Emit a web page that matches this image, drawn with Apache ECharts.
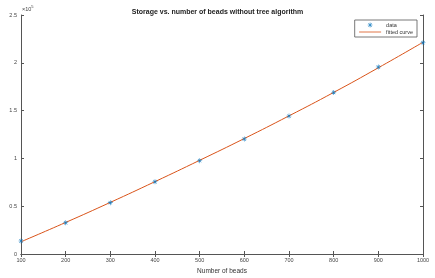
<!DOCTYPE html>
<html>
<head>
<meta charset="utf-8">
<script src="https://cdn.jsdelivr.net/npm/echarts@6/dist/echarts.min.js"></script>
<style>
  html, body { margin: 0; padding: 0; background: #fff; }
  #main { width: 435px; height: 278px; }
</style>
</head>
<body>
<div id="main"></div>
<script>
// beads count on x, storage (x10^5) on y
const beads = [100, 200, 300, 400, 500, 600, 700, 800, 900, 1000];
const storage = [0.136, 0.327, 0.537, 0.756, 0.976, 1.203, 1.443, 1.69, 1.956, 2.21];
const fitted = [0.128, 0.33, 0.54, 0.757, 0.98, 1.208, 1.445, 1.69, 1.948, 2.215];
const yTicks = [0, 0.5, 1, 1.5, 2, 2.5];

const axisColor = "#555";
const star = "path://M4.4,0H5.6V10H4.4Z M0,4.4H10V5.6H0Z M1.2,2L2,1.2L8.8,8L8,8.8Z M8,1.2L8.8,2L2,8.8L1.2,8Z";

var myChart = echarts.init(document.getElementById("main"));
myChart.setOption({
  animation: false,
  textStyle: { fontFamily: "Liberation Sans, Arial, sans-serif" },
  title: {
    text: "Storage vs. number of beads without tree algorithm",
    left: "center",
    top: 4,
    textStyle: { fontSize: 7, fontWeight: "bold", color: "#222" },
  },
  legend: {
    right: 18,
    top: 20,
    orient: "vertical",
    itemGap: 1,
    itemWidth: 22,
    itemHeight: 5,
    padding: [2, 4, 2, 4],
    borderColor: "#555",
    borderWidth: 0.8,
    backgroundColor: "#fff",
    textStyle: { fontSize: 5.5, color: "#333" },
    data: [
      { name: "data", icon: star },
      { name: "fitted curve", itemStyle: { opacity: 0 }, lineStyle: { width: 0.8 } },
    ],
  },
  grid: { left: 21, right: 12, top: 15, bottom: 24, containLabel: false, outerBoundsMode: "none" },
  xAxis: [
    {
      type: "value",
      min: 100,
      max: 1000,
      interval: 100,
      name: "Number of beads",
      nameLocation: "middle",
      nameGap: 10,
      nameTextStyle: { fontSize: 6.5, color: "#333" },
      axisLine: { lineStyle: { color: axisColor, width: 1 } },
      axisTick: { inside: true, length: 3, lineStyle: { color: axisColor } },
      axisLabel: { fontSize: 5.5, color: "#444", margin: 3, formatter: function (v) { return String(v); } },
      splitLine: { show: false },
    },
    {
      type: "value",
      position: "top",
      min: 100,
      max: 1000,
      interval: 100,
      axisLine: { lineStyle: { color: axisColor, width: 1 } },
      axisTick: { inside: true, length: 3, lineStyle: { color: axisColor } },
      axisLabel: { show: false },
      splitLine: { show: false },
    },
  ],
  yAxis: [
    {
      type: "value",
      min: 0,
      max: 2.5,
      interval: 0.5,
      name: "Storage",
      nameLocation: "middle",
      nameGap: 12,
      nameTextStyle: { fontSize: 6.5, color: "#333" },
      axisLine: { show: true, lineStyle: { color: axisColor, width: 1 } },
      axisTick: { show: true, inside: true, length: 3, lineStyle: { color: axisColor } },
      axisLabel: {
        fontSize: 5.5,
        color: "#444",
        margin: 4,
        formatter: function (v) { return yTicks.indexOf(v) >= 0 ? String(v) : ""; },
      },
      splitLine: { show: false },
    },
    {
      type: "value",
      position: "right",
      min: 0,
      max: 2.5,
      interval: 0.5,
      axisLine: { show: true, lineStyle: { color: axisColor, width: 1 } },
      axisTick: { show: true, inside: true, length: 3, lineStyle: { color: axisColor } },
      axisLabel: { show: false },
      splitLine: { show: false },
    },
  ],
  graphic: [
    {
      type: "text",
      left: 22,
      top: 5,
      style: {
        text: "×10{s|5}",
        fontSize: 5.5,
        fill: "#444",
        rich: { s: { fontSize: 4, verticalAlign: "top", padding: [0, 0, 4, 0] } },
      },
    },
  ],
  series: [
    {
      name: "fitted curve",
      type: "line",
      data: beads.map((b, i) => [b, fitted[i]]),
      symbol: "none",
      showSymbol: false,
      smooth: true,
      lineStyle: { color: "#D95319", width: 1 },
      itemStyle: { color: "#D95319" },
      z: 2,
    },
    {
      name: "data",
      type: "scatter",
      data: beads.map((b, i) => [b, storage[i]]),
      symbol: star,
      symbolSize: 5,
      itemStyle: { color: "#0072BD" },
      z: 3,
    },
  ],
});
</script>
</body>
</html>
